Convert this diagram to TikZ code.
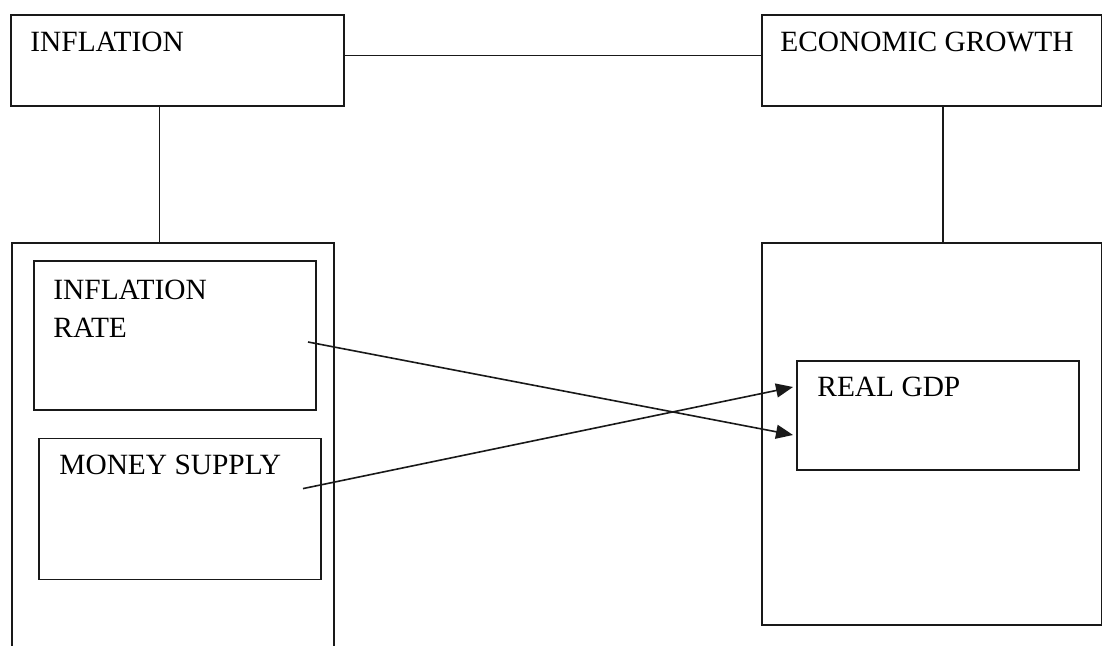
\documentclass[tikz,border=0pt]{standalone}
\usepackage{fontspec}
\setmainfont{Liberation Serif}
\usetikzlibrary{positioning,calc,arrows.meta}

\begin{document}
\begin{tikzpicture}[x=0.5pt, y=-0.5pt,
    box/.style={rectangle, draw=black!90, line width=0.8pt, anchor=north west, inner sep=0pt},
    lbl/.style={anchor=north west, inner sep=0pt, align=left, font=\fontsize{14.7}{19}\selectfont},
    link/.style={draw=black!90, line width=0.8pt},
    flow/.style={link, -{Triangle[length=8.5pt, width=7pt]}}]
            \useasboundingbox (0,0) rectangle (1102,646);
            \clip (0,0) rectangle (1102,646);

            \node (infl) [box, minimum width=166.5pt, minimum height=45.5pt] at (10,14) {};
            \node (inflT) [lbl, below right=9pt and 10pt of infl.north west] {INFLATION};

            \node (growth) [box, minimum width=170pt, minimum height=45.5pt] at (761,14) {};
            \node (growthT) [lbl, below right=9pt and 9.5pt of growth.north west] {ECONOMIC GROWTH};

            \node (infbox) [box, minimum width=161pt, minimum height=209pt] at (11,242) {};
            \node (growbox) [box, minimum width=170pt, minimum height=191pt] at (761,242) {};

            \node (rate) [box, minimum width=141pt, minimum height=74.5pt, below right=9pt and 11pt of infbox.north west] {};
            \node (rateT) [lbl, below right=10pt and 10pt of rate.north west] {INFLATION\\RATE};

            \node (money) [box, minimum width=141pt, minimum height=70.5pt, below right=13.5pt and 2.5pt of rate.south west] {};
            \node (moneyT) [lbl, below right=8.5pt and 10.5pt of money.north west] {MONEY SUPPLY};

            \node (gdp) [box, minimum width=141pt, minimum height=54.5pt, below right=59pt and 17.5pt of growbox.north west] {};
            \node (gdpT) [lbl, below right=8.5pt and 10.5pt of gdp.north west] {REAL GDP};

            \coordinate (j1) at ($(infl.north east)!0.45!(infl.south east)$);
            \coordinate (j2) at ($(infl.south west)!0.447!(infl.south east)$);
            \coordinate (j3) at ($(growth.south west)!0.532!(growth.south east)$);

            \draw [link] (j1) -- (j1 -| growth.west);
            \draw [link] (j2) -- (j2 |- infbox.north);
            \draw [link] (j3) -- (j3 |- growbox.north);

            \coordinate (a1) at ($(rate.north west)+(275,82)$);
            \coordinate (b1) at ($(gdp.north west)+(-3,75)$);
            \coordinate (a2) at ($(money.north west)+(265,51)$);
            \coordinate (b2) at ($(gdp.north west)+(-3,27)$);

            \draw [flow] (a1) -- (b1);
            \draw [flow] (a2) -- (b2);
        \end{tikzpicture}
\end{document}
